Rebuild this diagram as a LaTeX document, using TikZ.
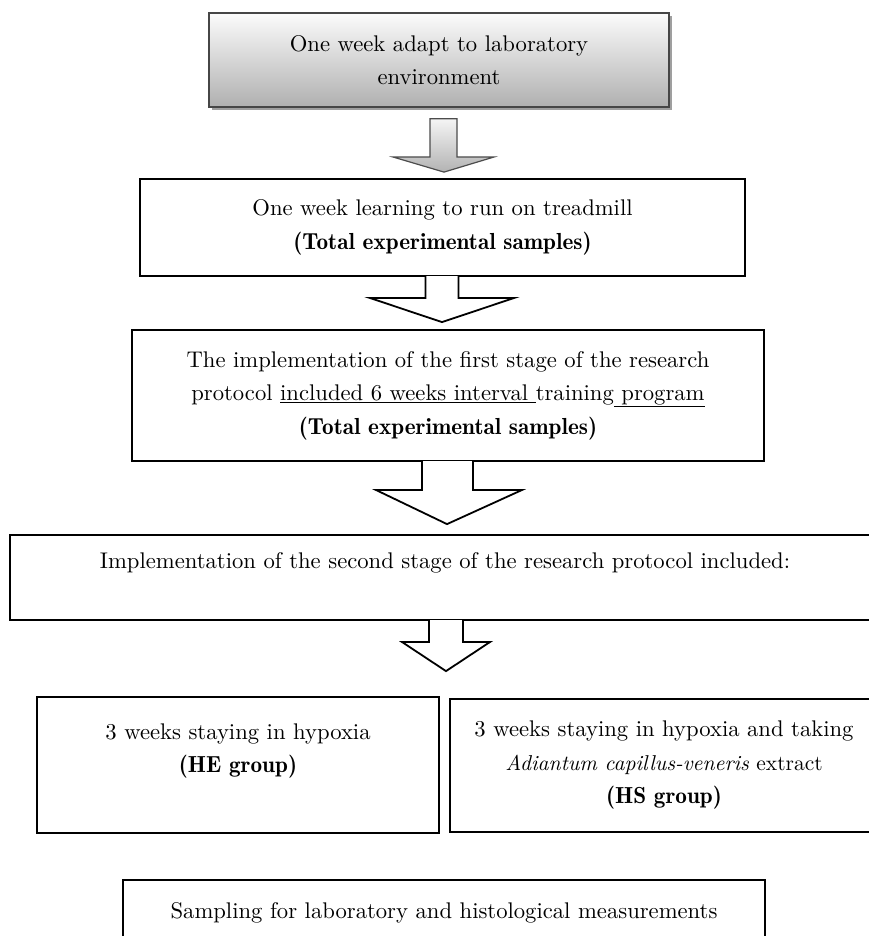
\documentclass[tikz,border=0pt]{standalone}
\usepackage{fontspec}
\setmainfont{lmroman10-regular.otf}[BoldFont=lmromandemi10-regular.otf, ItalicFont=lmroman10-italic.otf]
\usetikzlibrary{shadows,calc}
\begin{document}
\begin{tikzpicture}[x=1pt,y=1pt,
  font=\fontsize{22.65}{33.5}\selectfont,
  box/.style={draw=black, line width=1.8pt, align=center, inner sep=0pt},
  topbox/.style={draw=gray!55!black, line width=1.4pt, align=center, inner sep=0pt,
    top color=gray!3, bottom color=gray!62,
    drop shadow={shadow xshift=3pt, shadow yshift=-3pt, fill=gray!75, opacity=1}},
  flow/.style={draw=black, line width=1.8pt, fill=white, line join=miter, miter limit=20},
  grayflow/.style={draw=gray!60!black, line width=1.2pt, top color=gray!8, bottom color=gray!60, line join=miter, miter limit=20}]
\useasboundingbox (0,0) rectangle (869,-936);

\node[topbox, minimum width=460, minimum height=94] (b1) at (439,-60)
  {One week adapt to laboratory\\environment};
\node[box, minimum width=605, minimum height=97] (b2) at (442.5,-227.5)
  {One week learning to run on treadmill\\{\fontsize{23.2}{33.5}\selectfont\textbf{(Total experimental samples)}}};
\node[box, minimum width=632, minimum height=131] (b3) at (448,-395.5)
  {The implementation of the first stage of the research\\protocol \underline{included 6 weeks interval }training\underline{ program}\\{\fontsize{23.2}{33.5}\selectfont\textbf{(Total experimental samples)}}};
\node[box, minimum width=870, minimum height=85] (b4) at (445,-577.5)
  {Implementation of the second stage of the research protocol included:\\\mbox{}};
\node[box, minimum width=402, minimum height=136] (b5) at (238,-765)
  {3 weeks staying in hypoxia\\{\fontsize{23.2}{33.5}\selectfont\textbf{(HE group)}}\\\mbox{}};
\node[box, minimum width=428, minimum height=133] (b6) at (664,-765.5)
  {3 weeks staying in hypoxia and taking\\{\fontsize{21.5}{33.5}\selectfont\textit{Adiantum capillus-veneris} extract}\\{\fontsize{23.2}{33.5}\selectfont\textbf{(HS group)}}};
\node[box, minimum width=642, minimum height=66] (b7) at (444,-913)
  {Sampling for laboratory and histological measurements};

% gray block arrow
\draw[grayflow] let \p1=(b1.south), \p2=(b2.north) in
  (430,\y1-11) -- (430,-157) -- (393,-157) -- (444,\y2+6) -- (494,-157)
  -- (457,-157) -- (457,\y1-11) -- cycle;
% block arrows opening out of the boxes
\draw[flow] let \p1=(b2.south), \p2=(b3.north) in
  (425.5,\y1+0.9) -- (425.5,-298) -- (370,-298) -- (442,\y2+7) -- (514,-298)
  -- (458.5,-298) -- (458.5,\y1+0.9);
\draw[flow] let \p1=(b3.south), \p2=(b4.north) in
  (422,\y1+0.9) -- (422,-490) -- (376,-490) -- (447,\y2+10) -- (522,-490)
  -- (473,-490) -- (473,\y1+0.9);
\draw[flow] let \p1=(b4.south), \p2=(b5.north) in
  (429,\y1+0.9) -- (429,-642) -- (402,-642) -- (446,\y2+25) -- (490,-642)
  -- (463,-642) -- (463,\y1+0.9);
\end{tikzpicture}
\end{document}
